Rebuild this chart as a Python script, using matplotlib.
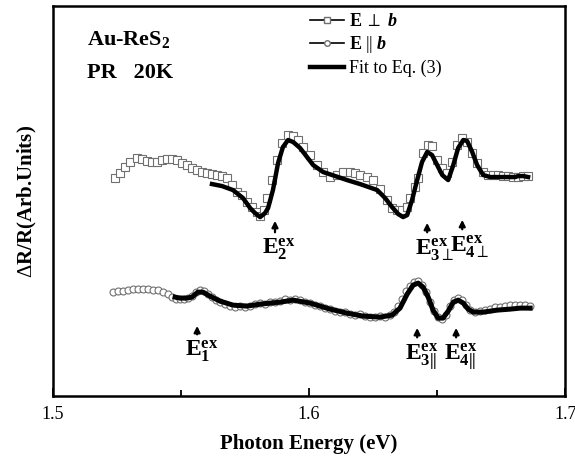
import matplotlib
matplotlib.use("Agg")
import matplotlib.pyplot as plt
from matplotlib.lines import Line2D
from matplotlib.ticker import MultipleLocator, FormatStrFormatter

plt.rcParams['font.family'] = ['Liberation Serif', 'DejaVu Serif']
plt.rcParams['mathtext.fontset'] = 'custom'
plt.rcParams['mathtext.rm'] = 'Liberation Serif'
plt.rcParams['mathtext.bf'] = 'Liberation Serif:bold'
plt.rcParams['mathtext.it'] = 'Liberation Serif:italic'
plt.rcParams['mathtext.bfit'] = 'Liberation Serif:bold:italic'

# E perpendicular b (squares), arb. units with offset
perp_e = [1.5242, 1.5262, 1.5281, 1.5301, 1.5328, 1.5348, 1.5367, 1.5387, 1.5406, 1.5426,
          1.5445, 1.5465, 1.5484, 1.5504, 1.5523, 1.5543, 1.5563, 1.5582, 1.5602, 1.5621,
          1.5641, 1.5660, 1.5680, 1.5699, 1.5719, 1.5738, 1.5758, 1.5777, 1.5797, 1.5809,
          1.5824, 1.5836, 1.5855, 1.5875, 1.5895, 1.5918, 1.5938, 1.5957, 1.5977, 1.6004,
          1.6031, 1.6055, 1.6082, 1.6109, 1.6133, 1.6160, 1.6180, 1.6199, 1.6227, 1.6250,
          1.6277, 1.6305, 1.6324, 1.6344, 1.6363, 1.6383, 1.6395, 1.6414, 1.6426, 1.6445,
          1.6465, 1.6480, 1.6500, 1.6520, 1.6539, 1.6559, 1.6578, 1.6598, 1.6617, 1.6637,
          1.6656, 1.6680, 1.6699, 1.6719, 1.6738, 1.6758, 1.6777, 1.6797, 1.6816, 1.6836,
          1.6855]
perp_v = [218, 223, 229, 234, 238, 237, 235, 234, 234, 236,
          237, 237, 236, 233, 231, 228, 226, 224, 223, 222,
          221, 220, 218, 211, 204, 201, 194, 189, 184, 180,
          186, 198, 216, 236, 253, 261, 260, 256, 249, 241,
          231, 224, 219, 221, 224, 224, 223, 221, 219, 216,
          207, 196, 188, 186, 186, 189, 198, 209, 218, 243,
          251, 250, 236, 228, 223, 234, 251, 258, 254, 243,
          233, 224, 221, 221, 221, 220, 220, 219, 219, 220,
          220]

perp_fit_e = [1.5621, 1.5660, 1.5703, 1.5742, 1.5770, 1.5789, 1.5809, 1.5828, 1.5840, 1.5859,
              1.5879, 1.5898, 1.5918, 1.5938, 1.5965, 1.5992, 1.6016, 1.6055, 1.6102, 1.6148,
              1.6199, 1.6266, 1.6297, 1.6324, 1.6348, 1.6367, 1.6383, 1.6402, 1.6422, 1.6441,
              1.6461, 1.6480, 1.6500, 1.6520, 1.6543, 1.6563, 1.6582, 1.6602, 1.6617, 1.6637,
              1.6656, 1.6680, 1.6707, 1.6746, 1.6785, 1.6805, 1.6816, 1.6836, 1.6855]
perp_fit_v = [212, 210, 206, 198, 188, 183, 179, 183, 188, 206,
              233, 249, 256, 254, 248, 239, 231, 224, 220, 216,
              212, 206, 198, 189, 182, 179, 181, 196, 216, 234,
              244, 241, 231, 221, 216, 231, 248, 256, 255, 244,
              231, 221, 219, 219, 219, 219, 220, 220, 219]

# E parallel b (circles)
par_e = [1.5234, 1.5254, 1.5273, 1.5293, 1.5313, 1.5332, 1.5352, 1.5371, 1.5391, 1.5410,
         1.5430, 1.5449, 1.5465, 1.5480, 1.5496, 1.5512, 1.5527, 1.5543, 1.5559, 1.5574,
         1.5590, 1.5605, 1.5621, 1.5637, 1.5652, 1.5672, 1.5691, 1.5711, 1.5730, 1.5750,
         1.5770, 1.5789, 1.5809, 1.5828, 1.5848, 1.5867, 1.5887, 1.5906, 1.5926, 1.5945,
         1.5965, 1.5984, 1.6004, 1.6023, 1.6043, 1.6063, 1.6082, 1.6102, 1.6121, 1.6141,
         1.6160, 1.6180, 1.6199, 1.6219, 1.6238, 1.6258, 1.6277, 1.6297, 1.6316, 1.6332,
         1.6348, 1.6363, 1.6379, 1.6395, 1.6410, 1.6426, 1.6441, 1.6457, 1.6473, 1.6488,
         1.6504, 1.6520, 1.6535, 1.6551, 1.6566, 1.6582, 1.6598, 1.6613, 1.6629, 1.6648,
         1.6668, 1.6688, 1.6707, 1.6727, 1.6746, 1.6766, 1.6785, 1.6805, 1.6824, 1.6844,
         1.6863]
par_v = [104, 105, 105, 106, 107, 107, 107, 107, 106, 106,
         104, 102, 99, 97, 97, 97, 98, 100, 104, 106,
         105, 102, 99, 96, 94, 92, 90, 89, 90, 89,
         90, 92, 93, 92, 94, 94, 95, 97, 96, 97,
         96, 94, 93, 91, 90, 88, 87, 85, 84, 84,
         82, 81, 82, 80, 79, 79, 80, 79, 81, 84,
         90, 97, 105, 110, 114, 115, 111, 104, 94, 85,
         79, 77, 81, 90, 96, 98, 96, 91, 86, 84,
         85, 86, 87, 89, 89, 90, 91, 91, 91, 91,
         90]

par_fit_e = [1.5477, 1.5496, 1.5523, 1.5543, 1.5566, 1.5586, 1.5613, 1.5652, 1.5703, 1.5758,
             1.5809, 1.5848, 1.5887, 1.5938, 1.6004, 1.6082, 1.6148, 1.6211, 1.6277, 1.6324,
             1.6355, 1.6383, 1.6406, 1.6426, 1.6445, 1.6465, 1.6484, 1.6504, 1.6523, 1.6543,
             1.6563, 1.6582, 1.6602, 1.6621, 1.6641, 1.6680, 1.6734, 1.6785, 1.6824, 1.6863]
par_fit_v = [99, 98, 98, 99, 104, 104, 100, 95, 91, 90,
             92, 93, 94, 96, 93, 87, 83, 80, 79, 81,
             88, 102, 111, 113, 109, 99, 86, 78, 78, 85,
             94, 96, 93, 87, 84, 84, 86, 87, 88, 88]

# transition labels: energy, arrow tip, arrow tail
trans_labels = [r'$\mathbf{E}^{\mathbf{ex}}_{\mathbf{2}}$',
                r'$\mathbf{E}^{\mathbf{ex}}_{\mathbf{3}\perp}$',
                r'$\mathbf{E}^{\mathbf{ex}}_{\mathbf{4}\perp}$',
                r'$\mathbf{E}^{\mathbf{ex}}_{\mathbf{1}}$',
                r'$\mathbf{E}^{\mathbf{ex}}_{\mathbf{3||}}$',
                r'$\mathbf{E}^{\mathbf{ex}}_{\mathbf{4||}}$']
trans_e = [1.5867, 1.6461, 1.6598, 1.5563, 1.6422, 1.6574]
trans_tip = [178, 176, 179, 73, 71, 71]
trans_tail = [161, 161, 164, 59, 56, 56]

fig = plt.figure(figsize=(5.75, 4.58), dpi=100)
ax = fig.add_axes([0.092, 0.135, 0.891, 0.852])

ax.plot(perp_e, perp_v, ls='none', marker='s', ms=5.8, mfc='white', mec='#707070', mew=0.8)
ax.plot(perp_fit_e, perp_fit_v, color='black', lw=3.2)
ax.plot(par_e, par_v, ls='none', marker='o', ms=5, mfc='white', mec='#707070', mew=0.8)
ax.plot(par_fit_e, par_fit_v, color='black', lw=3.6)

for lab, e, tip, tail in zip(trans_labels, trans_e, trans_tip, trans_tail):
    ax.annotate('', xy=(e, tip), xytext=(e, tail),
                arrowprops=dict(arrowstyle='-|>', color='black', lw=1.6, mutation_scale=9))
    ax.annotate(lab, xy=(e, tail), xytext=(-9, -1), textcoords='offset points',
                ha='left', va='top', fontsize=17)

ax.text(0.066, 0.915, r'Au-ReS$_{\mathbf{2}}$', transform=ax.transAxes, fontsize=16,
        fontweight='bold', va='center')
ax.text(0.066, 0.828, 'PR   20K', transform=ax.transAxes, fontsize=16,
        fontweight='bold', va='center')

handles = [Line2D([], [], color='black', lw=1.2, marker='s', ms=4, mfc='white', mec='#707070'),
           Line2D([], [], color='black', lw=1.2, marker='o', ms=4, mfc='white', mec='#707070'),
           Line2D([], [], color='black', lw=3.2)]
labels = [r'$\mathbf{E}\ \perp\ \mathbfit{b}$', r'$\mathbf{E}\ ||\ \mathbfit{b}$', 'Fit to Eq. (3)']
ax.legend(handles, labels, loc='upper left', bbox_to_anchor=(0.48, 1.01), frameon=False,
          fontsize=13, handlelength=1.9, handletextpad=0.3, labelspacing=0.25, borderaxespad=0.2)

ax.set_xlim(1.5, 1.7)
ax.set_ylim(0, 390)
ax.xaxis.set_major_locator(MultipleLocator(0.1))
ax.xaxis.set_minor_locator(MultipleLocator(0.05))
ax.xaxis.set_major_formatter(FormatStrFormatter('%.1f'))
ax.tick_params(axis='x', which='both', direction='in', top=False, labelsize=13, width=1.3)
ax.tick_params(axis='x', which='major', length=6, pad=7)
ax.tick_params(axis='x', which='minor', length=4)
ax.set_yticks([])
for sp in ax.spines.values():
    sp.set_linewidth(1.8)

ax.set_xlabel('Photon Energy (eV)', fontsize=15, fontweight='bold', labelpad=8)
ax.set_ylabel(r'$\Delta$R/R(Arb.Units)', fontsize=15, fontweight='bold', labelpad=10)

fig.savefig('out.png', dpi=100)
